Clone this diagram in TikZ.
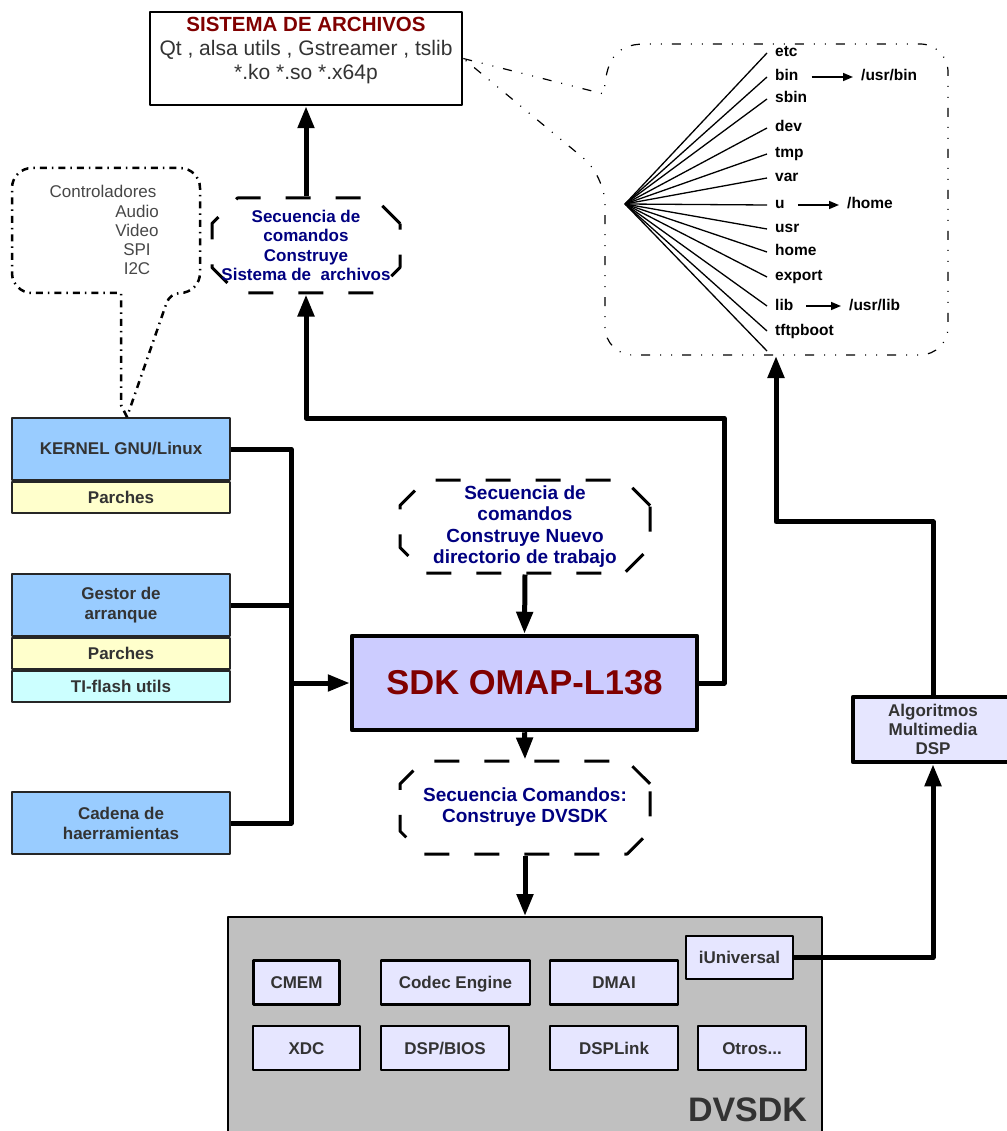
\documentclass[tikz,border=0pt]{standalone}
\usepackage{fontspec}
\setmainfont{Liberation Sans}
\usepackage{xcolor}
\usepackage{tikz}
\usetikzlibrary{arrows.meta, positioning, shapes.misc}

\definecolor{sdkred}{HTML}{800000}
\definecolor{cmdnavy}{HTML}{000080}
\definecolor{textgray}{HTML}{333333}
\definecolor{partblue}{HTML}{99CCFF}
\definecolor{patchyellow}{HTML}{FFFFCC}
\definecolor{flashcyan}{HTML}{CCFFFF}
\definecolor{sdkfill}{HTML}{CCCCFF}
\definecolor{modfill}{HTML}{E6E6FF}
\definecolor{dvsdkgray}{HTML}{C0C0C0}

\begin{document}
\begin{tikzpicture}[
x=1pt, y=-1pt,
line join=round,
thicklink/.style={line width=5pt, -{Triangle[length=22pt, width=16pt]}},
thickwire/.style={line width=5pt},
partbox/.style={rectangle, draw=black!85, line width=2pt, fill=partblue, text=textgray, minimum width=218pt, minimum height=62pt, inner sep=0pt, align=center, font=\fontsize{17}{20}\selectfont\bfseries},
patchbox/.style={partbox, fill=patchyellow, minimum height=31pt},
cmdbox/.style={chamfered rectangle, chamfered rectangle xsep=22pt, draw, line width=3pt, dash pattern=on 25pt off 25pt, inner sep=0pt, align=center, text=cmdnavy, minimum height=93pt},
modbox/.style={rectangle, draw=black, line width=2.5pt, fill=modfill, text=textgray, minimum height=44pt, inner sep=0pt, text height=12.2pt, text depth=0pt, font=\fontsize{17}{20}\selectfont\bfseries},
callout/.style={line width=2.5pt, dash pattern=on 7pt off 5pt on 1.5pt off 5pt},
treeline/.style={line width=1.2pt, dash pattern=on 9pt off 10pt on 1pt off 10pt on 1pt off 10pt},
dirname/.style={anchor=west, inner xsep=8pt, inner ysep=0pt, text height=11pt, text depth=3pt, font=\fontsize{15.5}{17}\selectfont\bfseries},
branch/.style={line width=1.3pt},
dirlink/.style={line width=1.5pt, shorten <=5pt, -{Triangle[length=10pt, width=8pt]}}
]
\useasboundingbox (0,0) rectangle (1006,1131);

% Sistema de archivos
\node[rectangle, draw, line width=2.5pt, minimum width=312pt, minimum height=93pt] (fsys) at (306,58.5) {};
\node[anchor=north, align=center, inner sep=0pt, text=textgray, font=\fontsize{21}{24}\selectfont] (fsystext) at (306,16.5)
  {{\color{sdkred}\fontsize{20.5}{24}\selectfont\bfseries SISTEMA DE ARCHIVOS}\\Qt , alsa utils , Gstreamer , tslib\\*.ko *.so *.x64p};

% Secuencias de comandos
\node[cmdbox, minimum width=188pt, minimum height=95pt, font=\fontsize{17}{19.3}\selectfont\bfseries] (cmdfs) at (306,245.5)
  {Secuencia de\\comandos\\Construye\\\makebox[130pt]{Sistema de\ \ archivos}};
\node[cmdbox, minimum width=250pt, font=\fontsize{19}{21.3}\selectfont\bfseries] (cmdwork) at (525,526.5)
  {Secuencia de\\comandos\\Construye Nuevo\\directorio de trabajo};
\node[cmdbox, minimum width=250pt, font=\fontsize{19}{21}\selectfont\bfseries] (cmddvsdk) at (525,807.5)
  {Secuencia Comandos:\\Construye DVSDK};

% SDK
\node[rectangle, draw, line width=4.5pt, fill=sdkfill, minimum width=345pt, minimum height=94pt, text=sdkred, font=\fontsize{34.5}{40}\selectfont\bfseries] (sdk) at (524.5,683) {SDK OMAP-L138};

% Kernel, bootloader, toolchain
\node[partbox] (kernel) at (121,449) {KERNEL GNU/Linux};
\node[patchbox, below=0pt of kernel] (kpatch) {Parches};
\node[partbox] (gestor) at (121,605) {Gestor de\\arranque};
\node[patchbox, below=0pt of gestor] (gpatch) {Parches};
\node[patchbox, fill=flashcyan, below=0pt of gpatch] (tiflash) {TI-flash utils};
\node[partbox] (cadena) at (121,823) {Cadena de\\haerramientas};

% Controladores
\node[inner sep=0pt, text=textgray!90, font=\fontsize{17}{19}\selectfont] (ctrl) at (103,191) {Controladores};
\node[inner sep=0pt, align=center, text=textgray!90, font=\fontsize{17}{19}\selectfont] (ctrlitems) at (137,240) {Audio\\Video\\SPI\\I2C};
\draw[callout] ([xshift=6pt]kernel.north) -- (121,405) -- (121,293) [rounded corners=20pt] -- (12,293) -- (12,168) -- (200,168) -- (200,293) [rounded corners=10pt] -- (170,293) [sharp corners] -- ([xshift=6pt]kernel.north);

% DVSDK
\node[rectangle, draw, line width=2pt, fill=dvsdkgray, minimum width=594pt, minimum height=218pt] (dvsdk) at (525,1026) {};
\node[inner sep=0pt, text=textgray, font=\fontsize{34}{40}\selectfont\bfseries] (dvsdkname) at (747.5,1109.5) {DVSDK};
\node[modbox, minimum width=86pt] (cmem) at (296.5,982.5) {CMEM};
\node[modbox, minimum width=149pt] (codec) at (455.5,982.5) {Codec Engine};
\node[modbox, minimum width=128pt] (dmai) at (614,982.5) {DMAI};
\node[modbox, minimum width=107pt, minimum height=43pt] (iuniv) at (739.5,957.5) {iUniversal};
\node[modbox, minimum width=107pt] (xdc) at (306.5,1048) {XDC};
\node[modbox, minimum width=128pt] (dspbios) at (445,1048) {DSP/BIOS};
\node[modbox, minimum width=128pt] (dsplink) at (614,1048) {DSPLink};
\node[modbox, minimum width=108pt] (otros) at (752,1048) {Otros...};

% Algoritmos
\node[rectangle, draw, line width=4.5pt, fill=modfill, text=textgray, minimum width=160pt, minimum height=65pt, inner sep=0pt, align=center, font=\fontsize{17}{19}\selectfont\bfseries] (algo) at (933,729.5) {Algoritmos\\Multimedia\\DSP};

% Directory tree
\coordinate (root) at (625,204);
\foreach \d/\y in {etc/53, bin/77, sbin/99, dev/128, tmp/154, var/178, u/205, usr/229, home/252, export/277, lib/306, tftpboot/331}{
  \node[dirname] (dir-\d) at (767,\y) {\d};
  \draw[branch] (root) -- (dir-\d.west);
}
\coordinate (dir-last) at (767,351);
\draw[branch] (root) -- (dir-last);
\node[dirname] (usrbin) at (853,77) {/usr/bin};
\node[dirname] (homedir) at (839,205) {/home};
\node[dirname] (usrlib) at (841,306) {/usr/lib};
\draw[dirlink] (dir-bin.east) -- (usrbin.west);
\draw[dirlink] (dir-u.east) -- (homedir.west);
\draw[dirlink] (dir-lib.east) -- (usrlib.west);
\draw[treeline] (fsys.east) -- (604,94) .. controls (606,62) and (614,44) .. (645,44) [rounded corners=28pt] -- (948,44) -- (948,355) -- (605,355) -- (605,176) [sharp corners] -- (fsys.east);

% Connections
\coordinate (bus) at (291,683);
\coordinate (fsysturn) at (724,418);
\coordinate (treebot) at (776,356);

\draw[thicklink] (cmdfs.north) -- (fsys.south);
\draw[thicklink] (sdk.east) -| (fsysturn) -| (cmdfs.south);
\draw[thickwire] (kernel.east) -| (bus) |- (cadena.east);
\draw[thickwire] (gestor.east) -- (gestor.east -| bus);
\draw[thicklink] (bus) -- (sdk.west);
\draw[thicklink] (cmdwork.south) -- (sdk.north);
\draw[thicklink] (sdk.south) -- (cmddvsdk.north);
\draw[thicklink] (cmddvsdk.south) -- (dvsdk.north);
\draw[thicklink] (iuniv.east) -| (algo.south);
\draw[thicklink] (algo.north) -- ++(0,-173) -| (treebot);

\end{tikzpicture}
\end{document}
